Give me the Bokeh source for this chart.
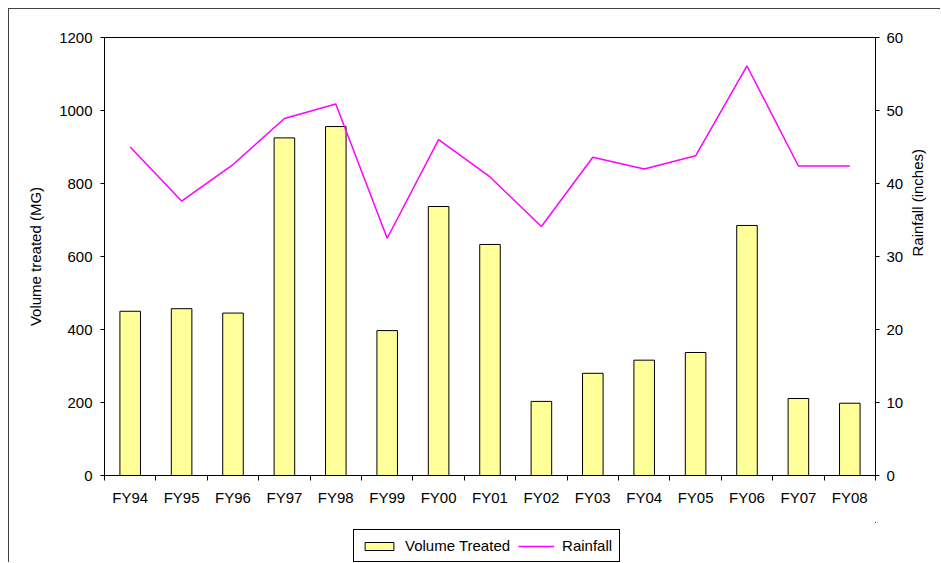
import math
from bokeh.plotting import figure
from bokeh.layouts import column
from bokeh.models import Range1d, LinearAxis, FixedTicker, Legend, LegendItem
from bokeh.embed import file_html
from bokeh.resources import INLINE

categories = ["FY94", "FY95", "FY96", "FY97", "FY98", "FY99", "FY00", "FY01",
              "FY02", "FY03", "FY04", "FY05", "FY06", "FY07", "FY08"]
volume_mg = [450, 457, 445, 925, 956, 397, 737, 633, 203, 280, 316, 337, 685, 211, 198]
rainfall_in = [45.0, 37.6, 42.6, 48.9, 50.9, 32.5, 46.0, 40.9, 34.1, 43.6, 42.0, 43.8, 56.1, 42.4, 42.4]
volume_ticks = [0, 200, 400, 600, 800, 1000, 1200]
rain_ticks = [0, 10, 20, 30, 40, 50, 60]
series_names = ["Volume Treated", "Rainfall"]

FONT = "Liberation Sans"
FS = "15px"
BAR_FILL = "#FFFF99"
LINE_COLOR = "#FF00FF"
W = 931

n = len(categories)
xc = [i + 0.5 for i in range(n)]
bounds = [float(i) for i in range(n + 1)]

p = figure(width=W, height=513,
           x_range=Range1d(0, n), y_range=Range1d(volume_ticks[0], volume_ticks[-1]),
           x_axis_location=None, y_axis_location=None,
           output_backend="svg", toolbar_location=None,
           min_border_left=95, min_border_top=28, min_border_right=65, min_border_bottom=47,
           background_fill_color="white", border_fill_color="white")
p.grid.visible = False
p.outline_line_color = "black"
p.outline_line_alpha = 1.0
p.extra_y_ranges = {"rain": Range1d(rain_ticks[0], rain_ticks[-1])}

def style_axis(ax):
    ax.axis_line_color = "black"
    ax.major_tick_line_color = "black"
    ax.minor_tick_line_color = None
    ax.major_tick_in = 0
    ax.major_tick_out = 4
    ax.major_label_text_font = FONT
    ax.major_label_text_font_size = FS
    ax.major_label_text_color = "black"
    ax.axis_label_text_font = FONT
    ax.axis_label_text_font_size = FS
    ax.axis_label_text_font_style = "normal"
    ax.axis_label_text_color = "black"

left = LinearAxis(ticker=FixedTicker(ticks=volume_ticks), axis_label="Volume treated (MG)")
style_axis(left)
left.major_label_standoff = 8
left.axis_label_standoff = 12
p.add_layout(left, "left")

right = LinearAxis(y_range_name="rain", ticker=FixedTicker(ticks=rain_ticks), axis_label="Rainfall (inches)")
style_axis(right)
right.major_label_standoff = 7
right.axis_label_standoff = 11
if "axis_label_orientation" in right.properties():
    right.axis_label_orientation = math.pi / 2
p.add_layout(right, "right")

xb = LinearAxis(ticker=FixedTicker(ticks=bounds), major_label_overrides={b: "" for b in bounds})
style_axis(xb)
xb.major_label_text_font_size = "0px"
xb.major_label_standoff = 0
xb.major_tick_out = 5
p.add_layout(xb, "below")

xl = LinearAxis(ticker=FixedTicker(ticks=xc), major_label_overrides={x: c for x, c in zip(xc, categories)})
style_axis(xl)
xl.axis_line_color = None
xl.major_tick_line_color = None
xl.major_tick_out = 0
xl.major_label_standoff = 8
p.add_layout(xl, "below")

p.vbar(x=xc, top=volume_mg, width=0.4, bottom=0,
       fill_color=BAR_FILL, line_color="black", line_width=1)
p.line(xc, rainfall_in, y_range_name="rain", line_color=LINE_COLOR, line_width=1.5)

# legend strip below the chart (its frame is aligned with the chart's frame)
lf = figure(width=W, height=40, x_range=Range1d(-3, -2), y_range=Range1d(-3, -2),
            x_axis_location=None, y_axis_location=None,
            output_backend="svg", toolbar_location=None,
            min_border_left=0, min_border_right=0, min_border_top=0, min_border_bottom=0,
            background_fill_color="white", border_fill_color="white")
lf.grid.visible = False
lf.outline_line_color = None
key_bar = lf.vbar(x=xc, top=volume_mg, width=0.4, bottom=0,
                  fill_color=BAR_FILL, line_color="black", line_width=1)
key_line = lf.line(xc, rainfall_in, line_color=LINE_COLOR, line_width=1.5)

legend = Legend(items=[LegendItem(label=series_names[0], renderers=[key_bar]),
                       LegendItem(label=series_names[1], renderers=[key_line])],
                orientation="horizontal", location=(249, 0),
                glyph_width=36, glyph_height=10, label_standoff=8, spacing=8,
                padding=7, margin=0,
                label_text_font=FONT, label_text_font_size=FS, label_text_color="black",
                border_line_color="black", border_line_width=1, border_line_alpha=1.0,
                background_fill_color="white", background_fill_alpha=1.0)
lf.add_layout(legend, "center")

layout = column(p, lf, spacing=0,
                styles={"margin-left": "8px", "margin-top": "8px",
                        "border-left": "1px solid #404040", "border-top": "1px solid #404040"})

open("out.html", "w").write(file_html(layout, INLINE))
